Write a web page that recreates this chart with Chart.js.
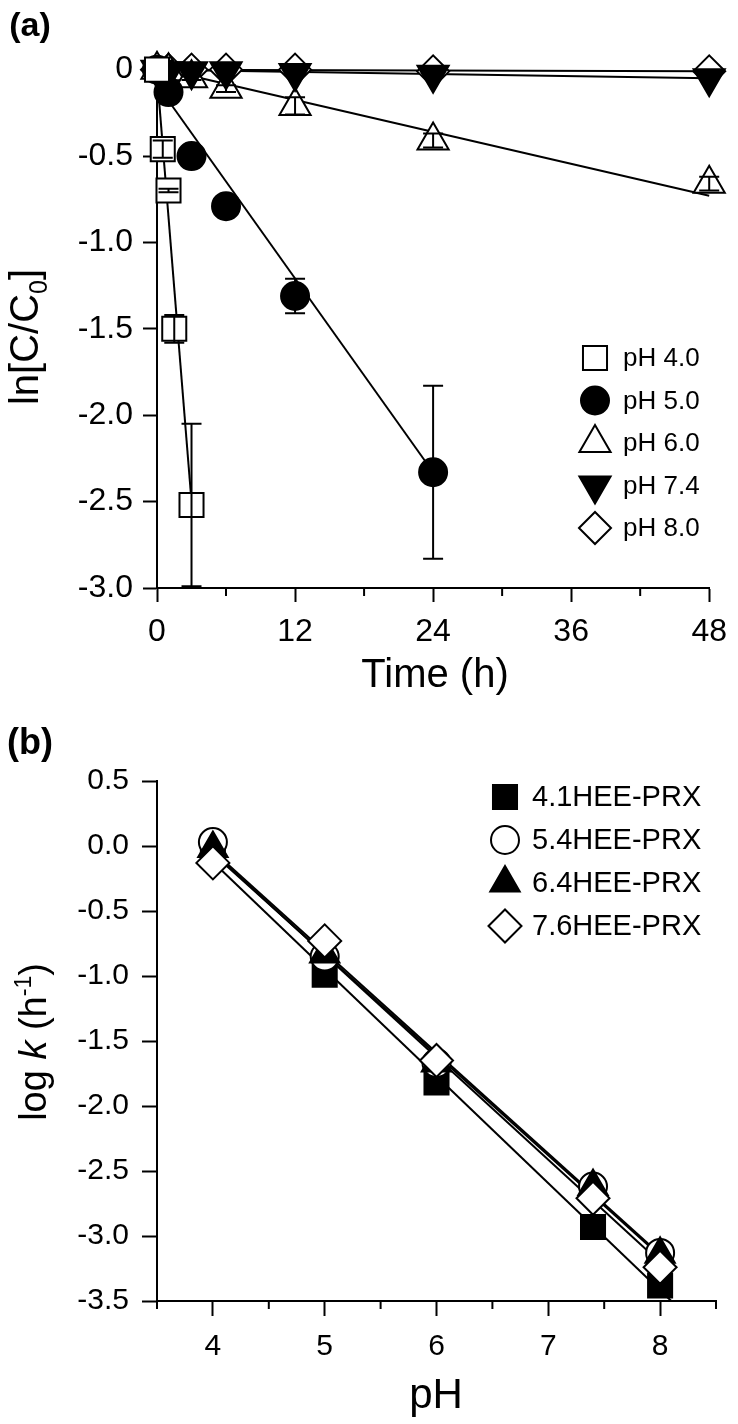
<!DOCTYPE html>
<html lang="en">
<head>
<meta charset="UTF-8">
<title>Degradation kinetics</title>
<script src="https://cdn.jsdelivr.net/npm/chart.js"></script>
<style>
  body { margin: 0; background: #fff; }
  #wrap { position: relative; width: 738px; height: 1424px; }
  canvas { position: absolute; left: 0; }
</style>
</head>
<body>
<div id="wrap">
  <canvas id="chartA" width="738" height="700" style="top:0"></canvas>
  <canvas id="chartB" width="738" height="724" style="top:700px"></canvas>
</div>
<script>
// ---------- panel (a): ln[C/C0] vs time ----------
const timeTicks = [0, 12, 24, 36, 48];
const timeMinor = [6, 18, 30, 42];
const lnTicks = [0, -0.5, -1.0, -1.5, -2.0, -2.5, -3.0];

const tPH4 = [0, 0.5, 1, 1.5, 3];
const lnPH4 = [0, -0.46, -0.70, -1.50, -2.52];
const errPH4 = [0, 0.05, 0.01, 0.08, 0.47];

const tPH5 = [0, 1, 3, 6, 12, 24];
const lnPH5 = [0, -0.13, -0.50, -0.79, -1.31, -2.33];
const errPH5 = [0, 0.01, 0.01, 0.02, 0.10, 0.50];

const tLong = [0, 1, 3, 6, 12, 24, 48];
const lnPH6 = [0, -0.01, -0.05, -0.11, -0.21, -0.41, -0.66];
const errPH6 = [0, 0, 0.01, 0.02, 0.05, 0.04, 0.04];
const lnPH74 = [0, -0.01, -0.01, -0.01, -0.02, -0.03, -0.05];
const lnPH8 = [0, 0, 0, 0, 0, -0.01, -0.01];

// regression lines (end points)
const fitT4 = [0, 3],   fitY4 = [-0.03, -2.50];
const fitT5 = [1, 24],  fitY5 = [-0.18, -2.33];
const fitT6 = [0, 48],  fitY6 = [0.01, -0.73];
const fitT74 = [0, 48], fitY74 = [0, -0.05];
const fitT8 = [0, 48],  fitY8 = [0, -0.01];

// ---------- panel (b): log k vs pH ----------
const phTicks = [4, 5, 6, 7, 8];
const phMinor = [3.5, 4.5, 5.5, 6.5, 7.5, 8.5];
const logkTicks = [0.5, 0, -0.5, -1.0, -1.5, -2.0, -2.5, -3.0, -3.5];

const phVals = [4, 5, 6, 7.4, 8];
const logK41 = [-0.07, -0.99, -1.82, -2.93, -3.38];
const logK54 = [0.03, -0.85, -1.67, -2.62, -3.13];
const logK64 = [-0.02, -0.83, -1.67, -2.62, -3.14];
const logK76 = [-0.13, -0.73, -1.65, -2.71, -3.24];

const fitPH = [3.9, 8.1];
const fitK41 = [-0.04, -3.50];
const fitK54 = [0.04, -3.22];
const fitK64 = [0.02, -3.23];
const fitK76 = [0.03, -3.28];

const pts = (xs, ys) => xs.map((x, i) => ({ x: x, y: ys[i] }));

const SANS = "'Liberation Sans', Arial, sans-serif";

function markers(label, xs, ys, style, radius, fill, extra) {
  return Object.assign({
    label: label,
    data: pts(xs, ys),
    showLine: false,
    clip: false,
    pointStyle: style,
    pointRadius: radius,
    pointHoverRadius: radius,
    pointBackgroundColor: fill,
    pointBorderColor: '#000',
    pointBorderWidth: 2,
    inLegend: true
  }, extra || {});
}

function fitLine(xs, ys) {
  return {
    data: pts(xs, ys),
    showLine: true,
    clip: false,
    borderColor: '#000',
    borderWidth: 2,
    pointRadius: 0,
    fill: false
  };
}

function drawParts(ctx, parts, cx, cy, angle) {
  ctx.save();
  ctx.translate(cx, cy);
  ctx.rotate(angle);
  let total = 0;
  parts.forEach(p => { ctx.font = p.font; total += ctx.measureText(p.text).width; });
  let x = -total / 2;
  ctx.fillStyle = '#000';
  ctx.textAlign = 'left';
  ctx.textBaseline = 'alphabetic';
  parts.forEach(p => {
    ctx.font = p.font;
    ctx.fillText(p.text, x, p.dy || 0);
    x += ctx.measureText(p.text).width;
  });
  ctx.restore();
}

const errorBars = {
  id: 'errorBars',
  afterDatasetsDraw(chart) {
    const ctx = chart.ctx, y = chart.scales.y;
    ctx.save();
    ctx.strokeStyle = '#000';
    ctx.lineWidth = 2;
    chart.data.datasets.forEach((ds, di) => {
      if (!ds.errors) return;
      const meta = chart.getDatasetMeta(di);
      ds.errors.forEach((e, i) => {
        if (!e) return;
        const px = meta.data[i].x;
        const top = y.getPixelForValue(ds.data[i].y + e);
        const bot = y.getPixelForValue(ds.data[i].y - e);
        ctx.beginPath();
        ctx.moveTo(px, top); ctx.lineTo(px, bot);
        ctx.moveTo(px - 10, top); ctx.lineTo(px + 10, top);
        ctx.moveTo(px - 10, bot); ctx.lineTo(px + 10, bot);
        ctx.stroke();
      });
    });
    ctx.restore();
  }
};

function minorTicks(values, len) {
  return {
    id: 'minorTicks',
    afterDraw(chart) {
      const ctx = chart.ctx, x = chart.scales.x, b = chart.chartArea.bottom;
      ctx.save();
      ctx.strokeStyle = '#000';
      ctx.lineWidth = 2;
      values.forEach(v => {
        const px = x.getPixelForValue(v);
        ctx.beginPath();
        ctx.moveTo(px, b); ctx.lineTo(px, b + len);
        ctx.stroke();
      });
      ctx.restore();
    }
  };
}

function legendBox(x0, y0, dy, textDx, font) {
  return {
    id: 'legendBox',
    afterDraw(chart) {
      const ctx = chart.ctx;
      const items = chart.data.datasets.filter(d => d.inLegend)
        .sort((a, b) => a.legendOrder - b.legendOrder);
      items.forEach((ds, i) => {
        const yy = y0 + i * dy;
        ctx.save();
        ctx.fillStyle = ds.pointBackgroundColor;
        ctx.strokeStyle = '#000';
        ctx.lineWidth = ds.pointBorderWidth;
        Chart.helpers.drawPoint(ctx, {
          pointStyle: ds.pointStyle, radius: ds.pointRadius,
          rotation: ds.rotation || 0, borderWidth: ds.pointBorderWidth
        }, x0, yy);
        ctx.fillStyle = '#000';
        ctx.font = font;
        ctx.textAlign = 'left';
        ctx.textBaseline = 'middle';
        ctx.fillText(ds.label, x0 + textDx, yy + 1);
        ctx.restore();
      });
    }
  };
}

function axis(min, max, ticks, fmt, fixSize, font, tickLen, pad) {
  return {
    type: 'linear',
    min: min,
    max: max,
    afterBuildTicks: s => { s.ticks = ticks.map(v => ({ value: v })); },
    afterFit: fixSize,
    border: { display: true, color: '#000', width: 2 },
    grid: { drawOnChartArea: false, drawTicks: true, tickLength: tickLen, tickWidth: 2, tickColor: '#000' },
    ticks: { color: '#000', font: font, padding: pad, autoSkip: false, maxRotation: 0, callback: fmt }
  };
}

// ----- chart (a) -----
const titlesA = {
  id: 'titlesA',
  afterDraw(chart) {
    const ctx = chart.ctx;
    drawParts(ctx, [{ text: '(a)', font: 'bold 34px ' + SANS }], 30, 36, 0);
    drawParts(ctx, [{ text: 'Time (h)', font: '40px ' + SANS }], 435, 687, 0);
    drawParts(ctx, [
      { text: 'ln[C/C', font: '40px ' + SANS },
      { text: '0', font: '25px ' + SANS, dy: 9 },
      { text: ']', font: '40px ' + SANS }
    ], 38, 337, -Math.PI / 2);
  }
};

new Chart(document.getElementById('chartA'), {
  type: 'scatter',
  data: {
    datasets: [
      markers('pH 4.0', tPH4, lnPH4, 'rect', 17, '#fff', { errors: errPH4, legendOrder: 0 }),
      markers('pH 5.0', tPH5, lnPH5, 'circle', 14, '#000', { errors: errPH5, legendOrder: 1 }),
      markers('pH 7.4', tLong, lnPH74, 'triangle', 18, '#000', { pointRotation: 180, rotation: 180, legendOrder: 3 }),
      markers('pH 6.0', tLong, lnPH6, 'triangle', 18, '#fff', { errors: errPH6, legendOrder: 2 }),
      markers('pH 8.0', tLong, lnPH8, 'rectRot', 16, '#fff', { legendOrder: 4 }),
      fitLine(fitT4, fitY4),
      fitLine(fitT5, fitY5),
      fitLine(fitT6, fitY6),
      fitLine(fitT74, fitY74),
      fitLine(fitT8, fitY8)
    ]
  },
  options: {
    responsive: false,
    animation: false,
    layout: { autoPadding: false, padding: { left: 0, right: 24, top: 61, bottom: 0 } },
    plugins: { legend: { display: false }, tooltip: { enabled: false } },
    scales: {
      x: axis(0, 48, timeTicks, v => String(v), s => { s.height = 112; },
        { family: SANS, size: 32 }, 14, 11),
      y: axis(-3, 0.05, lnTicks, v => v === 0 ? '0' : v.toFixed(1), s => { s.width = 157; },
        { family: SANS, size: 32 }, 14, 10)
    }
  },
  plugins: [errorBars, minorTicks(timeMinor, 8), legendBox(595, 358, 42.5, 28, '26px ' + SANS), titlesA]
});

// ----- chart (b) -----
const titlesB = {
  id: 'titlesB',
  afterDraw(chart) {
    const ctx = chart.ctx;
    drawParts(ctx, [{ text: '(b)', font: 'bold 36px ' + SANS }], 30, 54, 0);
    drawParts(ctx, [{ text: 'pH', font: '42px ' + SANS }], 436, 708, 0);
    drawParts(ctx, [
      { text: 'log ', font: '38px ' + SANS },
      { text: 'k', font: 'italic 38px ' + SANS },
      { text: ' (h', font: '38px ' + SANS },
      { text: '-1', font: '23px ' + SANS, dy: -15 },
      { text: ')', font: '38px ' + SANS }
    ], 46, 342, -Math.PI / 2);
  }
};

new Chart(document.getElementById('chartB'), {
  type: 'scatter',
  data: {
    datasets: [
      markers('7.6HEE-PRX', phVals, logK76, 'rectRot', 16.5, '#fff', { legendOrder: 3 }),
      markers('6.4HEE-PRX', phVals, logK64, 'triangle', 17, '#000', { legendOrder: 2 }),
      markers('5.4HEE-PRX', phVals, logK54, 'circle', 14, '#fff', { legendOrder: 1 }),
      markers('4.1HEE-PRX', phVals, logK41, 'rect', 17, '#000', { legendOrder: 0 }),
      fitLine(fitPH, fitK41),
      fitLine(fitPH, fitK54),
      fitLine(fitPH, fitK64),
      fitLine(fitPH, fitK76)
    ]
  },
  options: {
    responsive: false,
    animation: false,
    layout: { autoPadding: false, padding: { left: 0, right: 22, top: 81, bottom: 0 } },
    plugins: { legend: { display: false }, tooltip: { enabled: false } },
    scales: {
      x: axis(3.5, 8.5, phTicks, v => String(v), s => { s.height = 123; },
        { family: SANS, size: 30 }, 15, 13),
      y: axis(-3.5, 0.5, logkTicks, v => v.toFixed(1), s => { s.width = 157; },
        { family: SANS, size: 30 }, 15, 13)
    }
  },
  plugins: [minorTicks(phMinor, 8), legendBox(505, 97, 43, 27, '29px ' + SANS), titlesB]
});
</script>
</body>
</html>
